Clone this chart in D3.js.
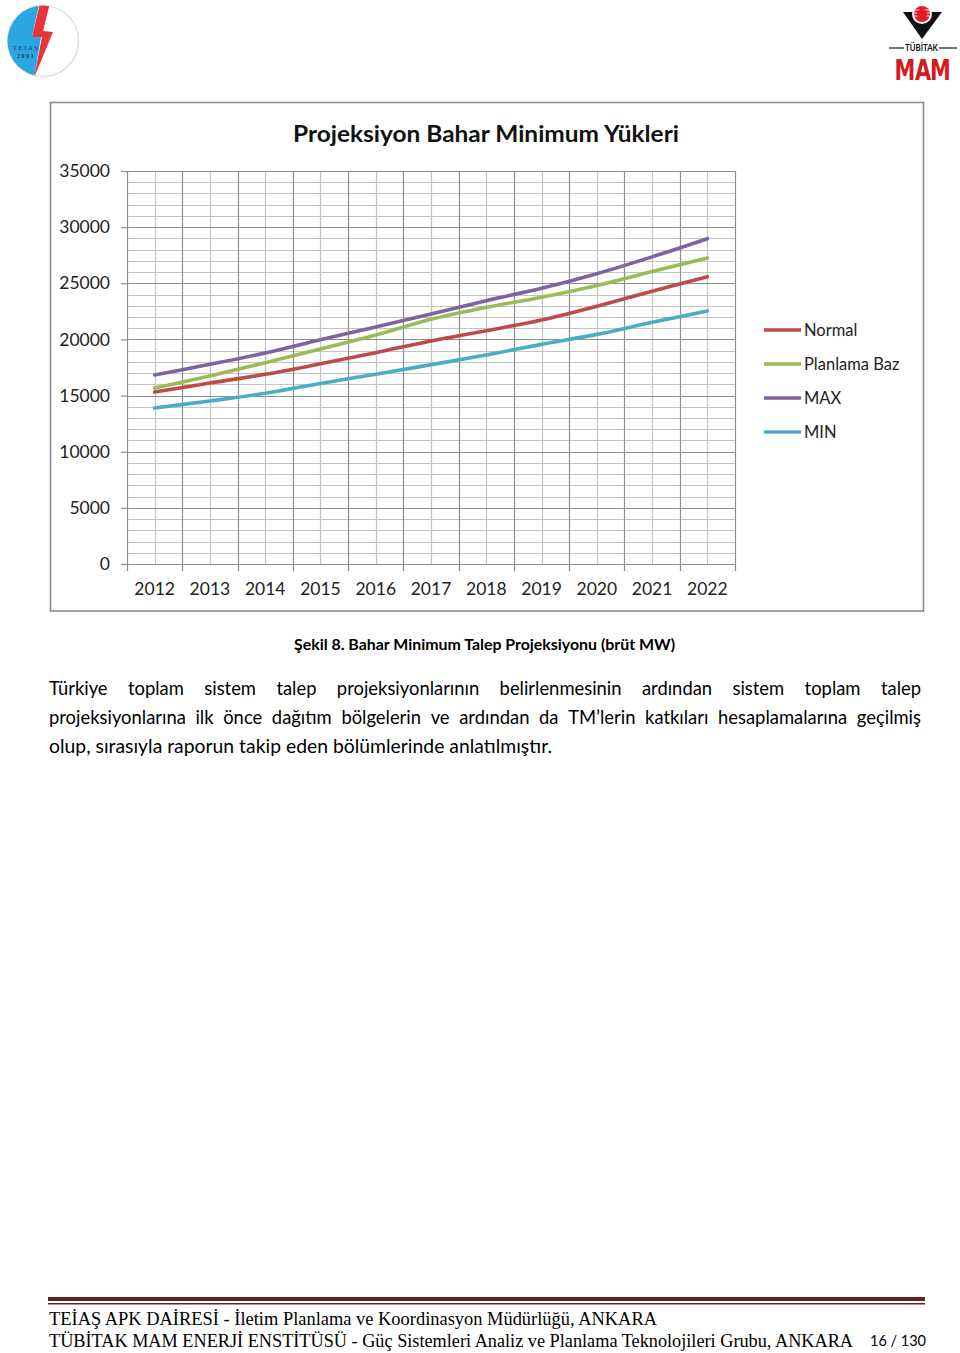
<!DOCTYPE html>
<html>
<head>
<meta charset="utf-8">
<script src="https://cdn.jsdelivr.net/npm/d3@7"></script>
<style>
  html, body { margin: 0; padding: 0; background: #fff; }
  svg { display: block; }
</style>
</head>
<body>
<svg id="page" width="960" height="1353"></svg>
<script>
// ---------------- DATA ----------------
const years = ["2012","2013","2014","2015","2016","2017","2018","2019","2020","2021","2022"];
const normal   = [15310, 16120, 16890, 17830, 18820, 19860, 20780, 21730, 22950, 24300, 25590];
const planlama = [15670, 16750, 17920, 19150, 20390, 21800, 22860, 23750, 24800, 26050, 27250];
const maxS     = [16830, 17780, 18790, 19980, 21100, 22260, 23450, 24550, 25850, 27350, 28970];
const minS     = [13890, 14520, 15200, 16080, 16900, 17750, 18610, 19560, 20450, 21520, 22530];
const seriesNames  = ["Normal", "Planlama Baz", "MAX", "MIN"];
const seriesValues = [normal, planlama, maxS, minS];
const seriesColors = ["#BE4B48", "#9BBB59", "#7F63A1", "#4BACC6"];
const yTicks = [0, 5000, 10000, 15000, 20000, 25000, 30000, 35000];
const chartTitle = "Projeksiyon Bahar Minimum Yükleri";
const caption = "Şekil 8. Bahar Minimum Talep Projeksiyonu (brüt MW)";
const bodyLines = [
  "Türkiye toplam sistem talep projeksiyonlarının belirlenmesinin ardından sistem toplam talep",
  "projeksiyonlarına ilk önce dağıtım bölgelerin ve ardından da TM’lerin katkıları hesaplamalarına geçilmiş",
  "olup, sırasıyla raporun takip eden bölümlerinde anlatılmıştır."
];
const footer1 = "TEİAŞ APK DAİRESİ - İletim Planlama ve Koordinasyon Müdürlüğü, ANKARA";
const footer2 = "TÜBİTAK MAM ENERJİ ENSTİTÜSÜ - Güç Sistemleri Analiz ve Planlama Teknolojileri Grubu, ANKARA";
const pageNo = "16 / 130";

// ---------------- PAGE ----------------
const svg = d3.select("#page");
const SANS = "Lato, 'Open Sans', sans-serif";

// ---- logos ----
const logoL = svg.append("g");
const defs = svg.append("defs");
defs.append("clipPath").attr("id", "teiasClip")
  .append("circle").attr("cx", 43).attr("cy", 41).attr("r", 35.5);
logoL.append("circle").attr("cx", 43).attr("cy", 41).attr("r", 35.5)
  .attr("fill", "#fff").attr("stroke", "#d8d8d8").attr("stroke-width", 1.2);
const lg = logoL.append("g").attr("clip-path", "url(#teiasClip)");
lg.append("polygon").attr("points", "0,0 40,0 32,37 41,37 33,85 0,85").attr("fill", "#2AA7E1");
lg.append("polygon").attr("points", "40,3 50,3 43,31 53,32 34,78 42,37 32,37").attr("fill", "#E8343B");
logoL.append("text").attr("x", 13).attr("y", 50).attr("font-family", "'Liberation Serif', serif")
  .attr("font-size", 6.5).attr("fill", "#1b3c6e").attr("letter-spacing", 1.6).text("TEİAŞ");
logoL.append("text").attr("x", 17).attr("y", 57.5).attr("font-family", "'Liberation Serif', serif")
  .attr("font-size", 6).attr("font-weight", "bold").attr("fill", "#1b3c6e").attr("letter-spacing", 1.6).text("2001");

const logoR = svg.append("g");
logoR.append("polygon").attr("points", "903,12 942,12 922,39").attr("fill", "#111");
logoR.append("circle").attr("cx", 922).attr("cy", 14).attr("r", 10).attr("fill", "#fff");
logoR.append("circle").attr("cx", 922).attr("cy", 14).attr("r", 8).attr("fill", "#E41E26");
[10, 13, 16].forEach(yy => logoR.append("line").attr("x1", 914).attr("x2", 930).attr("y1", yy).attr("y2", yy)
  .attr("stroke", "#fff").attr("stroke-width", 0.8));
logoR.append("circle").attr("cx", 922).attr("cy", 14).attr("r", 5).attr("fill", "#E41E26");
logoR.append("line").attr("x1", 889).attr("x2", 904).attr("y1", 48).attr("y2", 48).attr("stroke", "#111").attr("stroke-width", 1.2);
logoR.append("line").attr("x1", 939).attr("x2", 957).attr("y1", 48).attr("y2", 48).attr("stroke", "#111").attr("stroke-width", 1.2);
logoR.append("text").attr("x", 921.5).attr("y", 51).attr("text-anchor", "middle")
  .attr("font-family", SANS).attr("font-weight", "bold").attr("font-size", 8.5).attr("fill", "#111")
  .attr("textLength", 33).attr("lengthAdjust", "spacingAndGlyphs").text("TÜBİTAK");
["M", "A", "M"].forEach((ch, i) => {
  const xc = [905, 923, 940.5][i];
  logoR.append("text").attr("transform", `translate(${xc},80) scale(0.72,1)`).attr("text-anchor", "middle")
    .attr("font-family", "'DejaVu Sans', sans-serif").attr("font-weight", "bold")
    .attr("font-size", 29).attr("fill", "#D7191F").text(ch);
});

// ---- chart frame ----
svg.append("rect").attr("x", 50.5).attr("y", 102.5).attr("width", 873).attr("height", 508.5)
  .attr("fill", "#fff").attr("stroke", "#8c8c8c").attr("stroke-width", 1.6);

svg.append("text").attr("x", 486).attr("y", 142).attr("text-anchor", "middle")
  .attr("font-family", SANS).attr("font-weight", "bold").attr("font-size", 22).attr("fill", "#111")
  .attr("textLength", 386).attr("lengthAdjust", "spacingAndGlyphs").text(chartTitle);

const plot = { left: 127, right: 735, top: 171, bottom: 564 };
const x = d3.scaleBand().domain(years).range([plot.left, plot.right]).padding(0);
const y = d3.scaleLinear().domain([0, 35000]).range([plot.bottom, plot.top]);
const cx = d => x(d) + x.bandwidth() / 2;

const grid = svg.append("g");
d3.range(1000, 35001, 1000).filter(v => v % 5000 !== 0).forEach(v => {
  grid.append("line").attr("x1", plot.left).attr("x2", plot.right)
    .attr("y1", Math.round(y(v)) + 0.5).attr("y2", Math.round(y(v)) + 0.5)
    .attr("stroke", "#c4c4c4").attr("stroke-width", 1.2);
});
years.forEach(d => {
  grid.append("line").attr("x1", Math.round(cx(d)) + 0.5).attr("x2", Math.round(cx(d)) + 0.5)
    .attr("y1", plot.top).attr("y2", plot.bottom).attr("stroke", "#c4c4c4").attr("stroke-width", 1.2);
});
years.slice(1).concat(["__end"]).forEach(d => {
  const xx = d === "__end" ? plot.right : x(d);
  grid.append("line").attr("x1", Math.round(xx) + 0.5).attr("x2", Math.round(xx) + 0.5)
    .attr("y1", plot.top).attr("y2", plot.bottom + 7).attr("stroke", "#8e8e8e").attr("stroke-width", 1.2);
});
yTicks.filter(v => v > 0).forEach(v => {
  grid.append("line").attr("x1", plot.left).attr("x2", plot.right)
    .attr("y1", Math.round(y(v)) + 0.5).attr("y2", Math.round(y(v)) + 0.5)
    .attr("stroke", "#8e8e8e").attr("stroke-width", 1.2);
});

const yAxis = svg.append("g").attr("transform", `translate(${plot.left},0)`)
  .call(d3.axisLeft(y).tickValues(yTicks).tickSize(6).tickPadding(11).tickFormat(d3.format("d")));
yAxis.select(".domain").attr("stroke", "#8e8e8e").attr("stroke-width", 1.2);
yAxis.selectAll(".tick line").attr("stroke", "#8e8e8e").attr("stroke-width", 1.2);
yAxis.selectAll("text").attr("font-family", SANS).attr("font-size", 17.5).attr("fill", "#222");

const xAxis = svg.append("g").attr("transform", `translate(0,${plot.bottom})`)
  .call(d3.axisBottom(x).tickSize(0).tickPadding(19));
xAxis.select(".domain").attr("stroke", "#8e8e8e").attr("stroke-width", 1.2);
xAxis.selectAll("text").attr("font-family", SANS).attr("font-size", 17.5).attr("fill", "#222");
svg.append("line").attr("x1", plot.left + 0.5).attr("x2", plot.left + 0.5).attr("y1", plot.bottom).attr("y2", plot.bottom + 7)
  .attr("stroke", "#8e8e8e").attr("stroke-width", 1.2);

const line = d3.line().x((v, i) => cx(years[i])).y(v => y(v)).curve(d3.curveCatmullRom.alpha(0.5));
[3, 0, 1, 2].forEach(i => {
  svg.append("path").datum(seriesValues[i]).attr("d", line).attr("fill", "none")
    .attr("stroke", seriesColors[i]).attr("stroke-width", 3.6).attr("stroke-linecap", "round");
});

seriesNames.forEach((n, i) => {
  const yy = 330 + i * 34;
  svg.append("line").attr("x1", 764).attr("x2", 801).attr("y1", yy).attr("y2", yy)
    .attr("stroke", seriesColors[i]).attr("stroke-width", 3.6);
  svg.append("text").attr("x", 804).attr("y", yy + 6).attr("font-family", SANS).attr("font-size", 16.5)
    .attr("fill", "#222").text(n);
});

svg.append("text").attr("x", 484.5).attr("y", 650).attr("text-anchor", "middle")
  .attr("font-family", SANS).attr("font-weight", "bold").attr("font-size", 15.5).attr("fill", "#000")
  .attr("textLength", 381).attr("lengthAdjust", "spacingAndGlyphs").text(caption);

const BODY_FS = 18.4;
function justifyLine(str, x0, x1, yb) {
  const words = str.split(" ");
  const g = svg.append("g");
  const nodes = words.map(w => g.append("text").attr("y", yb).attr("font-family", SANS)
    .attr("font-size", BODY_FS).attr("fill", "#000").text(w));
  const widths = nodes.map(n => n.node().getComputedTextLength());
  const sum = d3.sum(widths);
  let gap = (x1 - x0 - sum) / (words.length - 1);
  let k = 1;
  if (gap < 4.5) { gap = 4.5; k = (x1 - x0 - gap * (words.length - 1)) / sum; }
  let xx = x0;
  nodes.forEach((n, i) => {
    const w = widths[i] * k;
    n.attr("x", xx);
    if (k !== 1) n.attr("textLength", w).attr("lengthAdjust", "spacingAndGlyphs");
    xx += w + gap;
  });
}
justifyLine(bodyLines[0], 49, 921, 695);
justifyLine(bodyLines[1], 49, 921, 724);
svg.append("text").attr("x", 49).attr("y", 753).attr("font-family", SANS).attr("font-size", BODY_FS)
  .attr("fill", "#000").attr("textLength", 503).attr("lengthAdjust", "spacingAndGlyphs").text(bodyLines[2]);

svg.append("rect").attr("x", 48).attr("y", 1297).attr("width", 877).attr("height", 4).attr("fill", "#622423");
svg.append("rect").attr("x", 48).attr("y", 1303).attr("width", 877).attr("height", 1.5).attr("fill", "#622423");
svg.append("text").attr("x", 49).attr("y", 1325).attr("font-family", "'Liberation Serif', 'DejaVu Serif', serif")
  .attr("font-size", 18).attr("fill", "#000").attr("textLength", 608).attr("lengthAdjust", "spacingAndGlyphs").text(footer1);
svg.append("text").attr("x", 49).attr("y", 1347).attr("font-family", "'Liberation Serif', 'DejaVu Serif', serif")
  .attr("font-size", 18).attr("fill", "#000").attr("textLength", 804).attr("lengthAdjust", "spacingAndGlyphs").text(footer2);
svg.append("text").attr("x", 870).attr("y", 1346).attr("font-family", SANS)
  .attr("font-size", 15).attr("fill", "#000").attr("textLength", 56).attr("lengthAdjust", "spacingAndGlyphs").text(pageNo);
</script>
</body>
</html>
